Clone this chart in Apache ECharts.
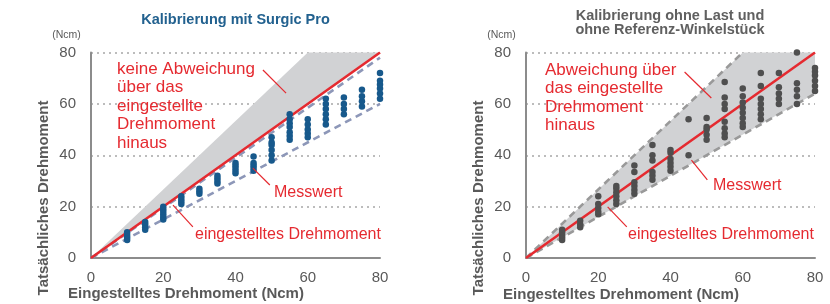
<!DOCTYPE html>
<html><head><meta charset="utf-8">
<script src="https://cdn.jsdelivr.net/npm/echarts@6/dist/echarts.min.js"></script>
<style>html,body{margin:0;padding:0;background:#fff}#c{width:830px;height:304px}</style>
</head><body><div id="c"></div>
<script>
// ---- data ----
var xTicks = [0, 20, 40, 60, 80];
var yTicks = [0, 20, 40, 60, 80];
var leftTitle = 'Kalibrierung mit Surgic Pro';
var rightTitle = 'Kalibrierung ohne Last und\nohne Referenz-Winkelstück';
// measured points, left (Surgic Pro): [set torque, actual torque]
var leftPoints = [
  [10,7],[10,8],[10,9],[10,10],
  [15,11],[15,12],[15,13],[15,14],
  [20,15],[20,16],[20,17],[20,18],[20,19],[20,20],
  [25,21],[25,22],[25,23],[25,24],
  [30,25],[30,26],[30,27],
  [35,29],[35,30],[35,31],[35,32],
  [40,33],[40,34],[40,35],[40,36],[40,37],
  [45,34],[45,35],[45,36],[45,37],[45,39.5],
  [50,38],[50,40],[50,42],[50,44],[50,45],[50,47],
  [55,46],[55,47.5],[55,49],[55,51],[55,52.5],[55,54],[55,56],
  [60,47],[60,48.5],[60,50],[60,52],[60,54],
  [65,52],[65,54],[65,56],[65,58],[65,60],[65,62],
  [70,56],[70,58],[70,60],[70,62.5],
  [75,59],[75,61],[75,63],[75,65.5],
  [80,62],[80,64],[80,66],[80,67.5],[80,69],[80,72]
];
// measured points, right (ohne Last / ohne Referenz-Winkelstück)
var rightPoints = [
  [10,7],[10,8],[10,9],[10,10],[10,11],
  [15,12],[15,13],[15,14.5],
  [20,17],[20,18],[20,19.5],[20,21],[20,24],
  [25,21],[25,22.5],[25,24],[25,25.5],[25,27],[25,28],
  [30,25],[30,26.5],[30,28],[30,29.5],[30,33.5],[30,36],
  [35,30.5],[35,32],[35,33.5],[35,38],[35,40],[35,44],
  [40,34],[40,35.5],[40,37],[40,38.5],[40,41],[40,42],
  [45,40],[45,54],
  [50,46],[50,48],[50,50],[50,51],[50,54.5],
  [55,47],[55,48.5],[55,50.5],[55,53],[55,58],[55,60],[55,62.5],[55,68.5],
  [60,51],[60,52.5],[60,54.5],[60,56.5],[60,58.5],[60,60.5],[60,63],[60,66],
  [65,54],[65,56],[65,58],[65,60],[65,62],[65,67],[65,72],
  [70,60],[70,62],[70,64],[70,66.5],[70,72],
  [75,60],[75,63],[75,65.5],[75,68],[75,80],
  [80,65],[80,67],[80,69],[80,71],[80,72.5],[80,74]
];
// reference lines
var setLine = [[0,0],[80,80]];
var leftUpperDash = [[0,0],[80,78]];
var leftLowerDash = [[0,0],[80,60]];
var rightUpperDash = [[0,0],[60,80]];
var rightLowerDash = [[0,0],[80,64]];
// grey zones (polygons)
var leftZone = [[0,0],[60,80],[80,80]];
var rightZone = [[0,0],[60,80],[80,80],[80,64]];
// annotation pointer lines [[from],[to]]
var leftPointers = [
  [[47.6,73.2],[54.0,64.2]],
  [[44.8,35.0],[49.5,28.4]],
  [[22.7,20.6],[28.2,12.1]]
];
var rightPointers = [
  [[43.9,72.4],[51.3,62.3]],
  [[45.8,38.1],[50.2,30.4]],
  [[22.6,19.9],[27.9,12.1]]
];

var RED = '#e52a30', GREYTXT = '#595959', FONT = 'Liberation Sans, Arial, sans-serif';
var chart = echarts.init(document.getElementById('c'), null, {renderer:'canvas'});

function xAxisCfg(gi){
  return {type:'value', gridIndex:gi, min:0, max:80, interval:20,
    axisLine:{show:true, lineStyle:{color:'#8c8c8c', width:2}},
    axisTick:{show:false}, splitLine:{show:false},
    axisLabel:{color:GREYTXT, fontSize:15, fontFamily:FONT, margin:12,
      formatter:function(v){return xTicks.indexOf(v)>=0? String(v):'';}}};
}
function yAxisCfg(gi){
  return {type:'value', gridIndex:gi, min:0, max:80, interval:20,
    axisLine:{show:false}, axisTick:{show:false},
    splitLine:{show:true, lineStyle:{color:'#a6a6a6', type:[2,4], width:1.5}},
    axisLabel:{color:GREYTXT, fontSize:15, fontFamily:FONT, margin:15,
      formatter:function(v){return yTicks.indexOf(v)>=0? String(v):'';}}};
}
function yAxisLineCfg(gi){
  return {type:'value', gridIndex:gi, min:0, max:84, position:'left', offset:0,
    axisLine:{show:true, onZero:false, lineStyle:{color:'#8c8c8c', width:2}},
    axisTick:{show:false}, axisLabel:{show:false}, splitLine:{show:false}};
}
function zoneSeries(xi, yi, pts){
  return {type:'custom', xAxisIndex:xi, yAxisIndex:yi, silent:true, z:1,
    data:[0],
    renderItem:function(params, api){
      return {type:'polygon', shape:{points:pts.map(function(p){return api.coord(p);})},
        style:{fill:'#d1d2d4'}};
    }};
}
function lineSeries(xi, yi, data, color, dashed, z){
  return {type:'line', xAxisIndex:xi, yAxisIndex:yi, data:data, symbol:'none', silent:true, z:z,
    itemStyle:{color:color},
    lineStyle:{color:color, width:2.6, type: dashed? [7,5] : 'solid'}};
}
function pointerSeries(xi, yi, lines){
  return lines.map(function(l){
    return {type:'line', xAxisIndex:xi, yAxisIndex:yi, data:l, symbol:'none', silent:true, z:6,
      itemStyle:{color:RED}, lineStyle:{color:RED, width:1.2}};
  });
}
function scatterSeries(xi, yi, data, color){
  return {type:'scatter', xAxisIndex:xi, yAxisIndex:yi, data:data, symbolSize:6.5, z:5,
    itemStyle:{color:color, opacity:1}};
}
function txt(left, top, text, style){
  return {type:'text', left:left, top:top, z:10, style:Object.assign({text:text, fontFamily:FONT}, style)};
}

var series = [
  zoneSeries(0,0,leftZone),
  lineSeries(0,0,leftLowerDash,'#8d97b8',true,3),
  lineSeries(0,0,leftUpperDash,'#8d97b8',true,3),
  lineSeries(0,0,setLine,RED,false,4),
  scatterSeries(0,0,leftPoints,'#17598c'),
  zoneSeries(1,2,rightZone),
  lineSeries(1,2,rightUpperDash,'#999999',true,3),
  lineSeries(1,2,rightLowerDash,'#999999',true,3),
  lineSeries(1,2,setLine,RED,false,4),
  scatterSeries(1,2,rightPoints,'#4f4f4f')
].concat(pointerSeries(0,0,leftPointers)).concat(pointerSeries(1,2,rightPointers));

var annot = {fill:RED, fontSize:17, lineHeight:18.5};
var annotS = {fill:RED, fontSize:16, lineHeight:18.5};
var option = {
  animation:false,
  grid:[
    {left:91, width:289, top:52.5, height:205.5},
    {left:526, width:289, top:52.5, height:205.5}
  ],
  xAxis:[xAxisCfg(0), xAxisCfg(1)],
  yAxis:[yAxisCfg(0), yAxisLineCfg(0), yAxisCfg(1), yAxisLineCfg(1)],
  series:series,
  graphic:[
    {type:'text', x:235.5, y:20, z:10, style:{text:leftTitle, fontFamily:FONT, fontSize:14.5, fontWeight:'bold', fill:'#22618f', align:'center', verticalAlign:'middle'}},
    {type:'text', x:670, y:23, z:10, style:{text:rightTitle, fontFamily:FONT, fontSize:14.5, fontWeight:'bold', fill:'#606060', align:'center', verticalAlign:'middle', lineHeight:14.5}},
    {type:'text', x:66.5, y:35, z:10, style:{text:'(Ncm)', fontFamily:FONT, fontSize:10.5, fill:GREYTXT, align:'center', verticalAlign:'middle'}},
    {type:'text', x:501.5, y:35, z:10, style:{text:'(Ncm)', fontFamily:FONT, fontSize:10.5, fill:GREYTXT, align:'center', verticalAlign:'middle'}},
    {type:'text', x:44, y:198, rotation:Math.PI/2, z:10, style:{text:'Tatsächliches Drehmoment', fontFamily:FONT, fontSize:15, fontWeight:'bold', fill:GREYTXT, align:'center', verticalAlign:'middle'}},
    {type:'text', x:479, y:198, rotation:Math.PI/2, z:10, style:{text:'Tatsächliches Drehmoment', fontFamily:FONT, fontSize:15, fontWeight:'bold', fill:GREYTXT, align:'center', verticalAlign:'middle'}},
    {type:'text', x:186, y:294, z:10, style:{text:'Eingestelltes Drehmoment (Ncm)', fontFamily:FONT, fontSize:15, fontWeight:'bold', fill:GREYTXT, align:'center', verticalAlign:'middle'}},
    {type:'text', x:621, y:295, z:10, style:{text:'Eingestelltes Drehmoment (Ncm)', fontFamily:FONT, fontSize:15, fontWeight:'bold', fill:GREYTXT, align:'center', verticalAlign:'middle'}},
    txt(117, 60, 'keine Abweichung\nüber das\neingestellte\nDrehmoment\nhinaus', annot),
    txt(274, 183, 'Messwert', annotS),
    txt(195, 225, 'eingestelltes Drehmoment', annotS),
    txt(545, 61, 'Abweichung über\ndas eingestellte\nDrehmoment\nhinaus', annot),
    txt(713, 176, 'Messwert', annotS),
    txt(628, 225, 'eingestelltes Drehmoment', annotS)
  ]
};
chart.setOption(option);
</script></body></html>
